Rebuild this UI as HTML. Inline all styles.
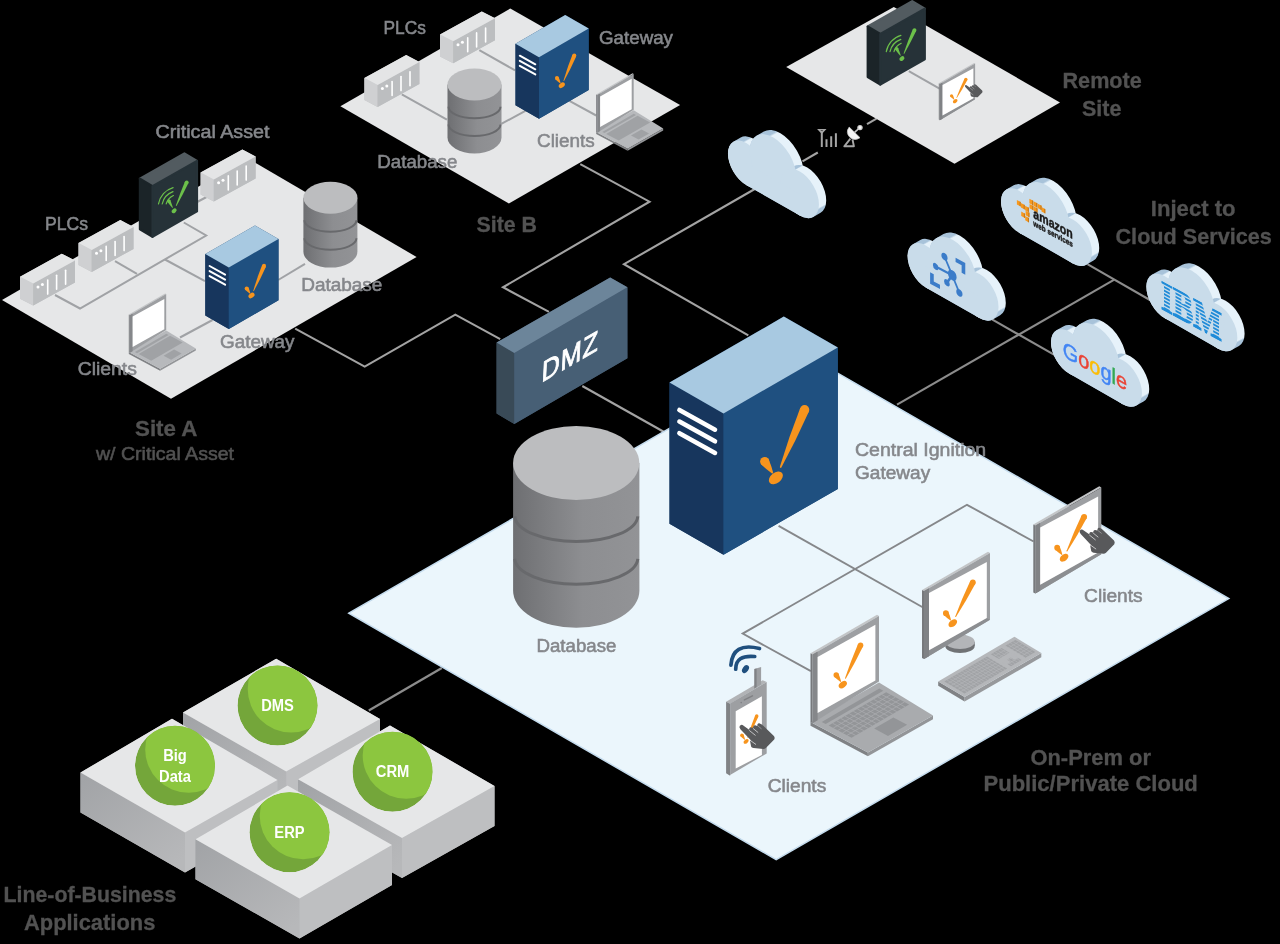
<!DOCTYPE html>
<html><head><meta charset="utf-8"><title>Architecture</title>
<style>html,body{margin:0;padding:0;background:#000;}svg{display:block;will-change:transform;}</style></head>
<body>
<svg width="1280" height="944" viewBox="0 0 1280 944" font-family="'Liberation Sans', sans-serif">
<defs>
<linearGradient id="cyl" x1="0" x2="1" y1="0" y2="0"><stop offset="0" stop-color="#6e6f72"/><stop offset="0.25" stop-color="#7c7d80"/><stop offset="0.55" stop-color="#8d8e91"/><stop offset="1" stop-color="#929396"/></linearGradient>
<linearGradient id="lobl" x1="0" y1="0" x2="0.8" y2="1"><stop offset="0" stop-color="#a1a3a6"/><stop offset="1" stop-color="#b7b8ba"/></linearGradient>
<clipPath id="cc"><circle cx="0" cy="0" r="40"/></clipPath>
</defs>
<rect width="1280" height="944" fill="#000"/>
<polyline points="295.2,328.7 364.7,366.6 455.3,314.6 500.2,339.2" fill="none" stroke="#a3a3a3" stroke-width="2.1" />
<polyline points="580.3,164.2 649.5,201.7 503.0,287.3 549.0,311.9" fill="none" stroke="#a3a3a3" stroke-width="2.1" />
<polyline points="760.0,186.0 624.0,264.2 748.3,335.3" fill="none" stroke="#a3a3a3" stroke-width="2.1" />
<polyline points="582.3,386.0 665.0,432.5" fill="none" stroke="#a3a3a3" stroke-width="2.1" />
<polyline points="897.0,404.6 1114.3,279.7" fill="none" stroke="#8c8c8c" stroke-width="2.1" />
<polyline points="1087.4,264.2 1150.8,300.5" fill="none" stroke="#8c8c8c" stroke-width="2.1" />
<polyline points="992.0,319.4 1055.7,355.7" fill="none" stroke="#8c8c8c" stroke-width="2.1" />
<polyline points="368.8,710.5 441.8,668.0" fill="none" stroke="#8c8c8c" stroke-width="2.3" />
<polyline points="802.5,161.4 817.8,152.5" fill="none" stroke="#a3a3a3" stroke-width="2.1" />
<polyline points="867.0,124.1 876.5,118.6" fill="none" stroke="#a3a3a3" stroke-width="2.1" />
<polygon points="348.8,613.2 801.5,352.3 1228.8,598.6 776.2,859.6" fill="#ebf6fc" stroke="#c5dcee" stroke-width="1.5"/>
<polyline points="778.6,525.8 924.0,608.0" fill="none" stroke="#85878a" stroke-width="1.9" />
<polyline points="1033.6,541.5 967.0,504.8 742.7,633.6 810.9,671.2" fill="none" stroke="#85878a" stroke-width="1.9" />
<polygon points="2.0,300.0 247.6,158.3 416.6,257.0 171.0,398.7" fill="#e6e7e8" />
<polyline points="55.0,295.0 80.0,308.5 206.2,235.5 183.8,222.5" fill="none" stroke="#a0a2a5" stroke-width="2.0" />
<polyline points="115.0,261.2 137.0,273.8" fill="none" stroke="#a0a2a5" stroke-width="2.0" />
<polyline points="196.2,202.5 207.5,196.5" fill="none" stroke="#a0a2a5" stroke-width="2.0" />
<polyline points="165.0,259.5 205.0,281.2" fill="none" stroke="#a0a2a5" stroke-width="2.0" />
<polyline points="278.2,280.0 305.0,263.8" fill="none" stroke="#a0a2a5" stroke-width="2.0" />
<polyline points="212.5,320.0 180.0,337.5" fill="none" stroke="#a0a2a5" stroke-width="2.0" />
<polygon points="200.6,172.5 242.4,149.5 255.6,156.4 255.6,178.4 213.8,201.4 200.6,194.5" fill="#c4c5c7" />
<polygon points="200.6,172.5 213.8,179.4 213.8,201.4 200.6,194.5" fill="#cfd0d2" />
<polygon points="213.8,179.4 255.6,156.4 255.6,178.4 213.8,201.4" fill="#bcbec0" />
<polygon points="242.4,149.5 255.6,156.4 213.8,179.4 200.6,172.5" fill="#e4e5e6" />
<line x1="228.3" y1="175.9" x2="228.3" y2="189.9" stroke="#fff" stroke-width="1.6" stroke-linecap="round"/>
<line x1="237.2" y1="171.0" x2="237.2" y2="185.0" stroke="#fff" stroke-width="1.6" stroke-linecap="round"/>
<line x1="246.2" y1="166.1" x2="246.2" y2="180.1" stroke="#fff" stroke-width="1.6" stroke-linecap="round"/>
<circle cx="218.6" cy="182.8" r="1.5" fill="#fff"/>
<circle cx="223.0" cy="180.3" r="1.5" fill="#fff"/>
<g stroke-linejoin="round" stroke-width="2.2">
<polygon points="139.9,178.8 184.4,153.4 197.0,160.9 152.5,186.2" fill="#525b60" stroke="#525b60"/>
<polygon points="139.9,178.8 152.5,186.2 152.5,236.8 139.9,229.2" fill="#1b2428" stroke="#1b2428"/>
<polygon points="152.5,186.2 197.0,160.9 197.0,211.4 152.5,236.8" fill="#263238" stroke="#263238"/>
</g>
<g fill="#6cc04a"><path d="M184.99,181.55 Q180.05,193.32 175.84,205.42 L176.66,205.78 Q182.92,194.61 188.45,183.11 Z"/><circle cx="186.72" cy="182.33" r="1.90"/><circle cx="176.25" cy="205.60" r="0.45"/></g>
<ellipse cx="174.1" cy="210.8" rx="2.8" ry="2.0" transform="rotate(-38 174.1 210.8)" fill="#6cc04a"/>
<g fill="#6cc04a"><path d="M167.31,201.67 Q169.73,204.71 172.15,207.74 L172.85,207.36 Q171.57,203.69 170.29,200.03 Z"/><circle cx="168.80" cy="200.85" r="1.70"/><circle cx="172.50" cy="207.55" r="0.40"/></g>
<path d="M166.2,203.9 A13.1,13.1 0 0 1 173.4,195.5" fill="none" stroke="#6cc04a" stroke-width="1.2" stroke-linecap="round"/>
<path d="M162.2,204.0 A16.9,16.9 0 0 1 173.0,191.6" fill="none" stroke="#6cc04a" stroke-width="1.2" stroke-linecap="round"/>
<path d="M158.5,203.9 A20.6,20.6 0 0 1 173.1,187.7" fill="none" stroke="#6cc04a" stroke-width="1.2" stroke-linecap="round"/>
<polygon points="78.5,243.0 120.3,220.0 133.5,226.9 133.5,248.9 91.7,271.9 78.5,265.0" fill="#c4c5c7" />
<polygon points="78.5,243.0 91.7,249.9 91.7,271.9 78.5,265.0" fill="#cfd0d2" />
<polygon points="91.7,249.9 133.5,226.9 133.5,248.9 91.7,271.9" fill="#bcbec0" />
<polygon points="120.3,220.0 133.5,226.9 91.7,249.9 78.5,243.0" fill="#e4e5e6" />
<line x1="106.2" y1="246.4" x2="106.2" y2="260.4" stroke="#fff" stroke-width="1.6" stroke-linecap="round"/>
<line x1="115.1" y1="241.5" x2="115.1" y2="255.5" stroke="#fff" stroke-width="1.6" stroke-linecap="round"/>
<line x1="124.1" y1="236.6" x2="124.1" y2="250.6" stroke="#fff" stroke-width="1.6" stroke-linecap="round"/>
<circle cx="96.5" cy="253.3" r="1.5" fill="#fff"/>
<circle cx="100.9" cy="250.8" r="1.5" fill="#fff"/>
<polygon points="20.0,276.7 61.8,253.7 75.0,260.6 75.0,282.6 33.2,305.6 20.0,298.7" fill="#c4c5c7" />
<polygon points="20.0,276.7 33.2,283.6 33.2,305.6 20.0,298.7" fill="#cfd0d2" />
<polygon points="33.2,283.6 75.0,260.6 75.0,282.6 33.2,305.6" fill="#bcbec0" />
<polygon points="61.8,253.7 75.0,260.6 33.2,283.6 20.0,276.7" fill="#e4e5e6" />
<line x1="47.7" y1="280.1" x2="47.7" y2="294.1" stroke="#fff" stroke-width="1.6" stroke-linecap="round"/>
<line x1="56.6" y1="275.2" x2="56.6" y2="289.2" stroke="#fff" stroke-width="1.6" stroke-linecap="round"/>
<line x1="65.6" y1="270.3" x2="65.6" y2="284.3" stroke="#fff" stroke-width="1.6" stroke-linecap="round"/>
<circle cx="38.0" cy="287.0" r="1.5" fill="#fff"/>
<circle cx="42.4" cy="284.5" r="1.5" fill="#fff"/>
<path d="M303.4,197.7 L303.4,251.6 A27.0,16.0 0 0 0 357.4,251.6 L357.4,197.7 Z" fill="url(#cyl)"/>
<path d="M304.4,220.3 A26.0,11.4 0 0 0 356.4,220.3" fill="none" stroke="#68696c" stroke-width="2.0"/>
<path d="M304.4,238.3 A26.0,11.4 0 0 0 356.4,238.3" fill="none" stroke="#68696c" stroke-width="2.0"/>
<ellipse cx="330.4" cy="197.7" rx="27.0" ry="16.0" fill="#bcbdbf"/>
<polygon points="205.3,254.0 255.0,225.4 278.5,238.9 278.5,300.3 228.8,329.0 205.3,315.5" fill="#1b4570" />
<polygon points="205.3,254.0 228.8,267.5 228.8,329.0 205.3,315.5" fill="#17365d" />
<polygon points="228.8,267.5 278.5,238.9 278.5,300.3 228.8,329.0" fill="#1f5080" />
<polygon points="255.0,225.4 278.5,238.9 228.8,267.5 205.3,254.0" fill="#a8c9e1" />
<line x1="209.6" y1="266.0" x2="225.1" y2="274.6" stroke="#fff" stroke-width="2.0" stroke-linecap="round"/>
<line x1="209.6" y1="271.1" x2="225.1" y2="279.6" stroke="#fff" stroke-width="2.0" stroke-linecap="round"/>
<line x1="209.6" y1="276.1" x2="225.1" y2="284.7" stroke="#fff" stroke-width="2.0" stroke-linecap="round"/>
<g fill="#f7941d"><path d="M262.14,265.12 Q257.18,277.70 253.27,290.73 L253.91,290.99 Q260.43,279.06 265.91,266.69 Z"/><circle cx="264.02" cy="265.91" r="2.04"/><circle cx="253.59" cy="290.86" r="0.35"/></g>
<g fill="#f7941d"><path d="M245.03,289.56 Q247.17,291.67 249.74,293.49 L250.31,293.10 Q249.53,290.05 248.32,287.29 Z"/><circle cx="246.67" cy="288.42" r="2.00"/><circle cx="250.02" cy="293.29" r="0.35"/></g>
<ellipse cx="251.5" cy="295.5" rx="3.4" ry="2.3" transform="rotate(-38 251.5 295.5)" fill="#f7941d"/>
<polygon points="128.8,352.1 160.1,368.8 160.1,370.8 128.8,354.1" fill="#808285" />
<polygon points="160.1,368.8 195.8,348.6 195.8,350.5 160.1,370.8" fill="#939598" />
<polygon points="128.8,352.1 160.1,368.8 195.8,348.6 166.2,330.4" fill="#b7b9bc" />
<polygon points="138.7,354.1 170.1,335.8 182.7,342.5 151.2,360.7" fill="#a0a2a5" />
<polygon points="134.9,352.1 166.4,333.8 168.6,335.0 137.1,353.2" fill="#a0a2a5" />
<polygon points="163.6,355.7 174.1,349.6 181.6,353.6 171.1,359.7" fill="#a0a2a5" />
<polygon points="129.8,315.2 166.2,294.0 165.1,293.4 128.8,314.5" fill="#c3c5c7" />
<polygon points="129.8,315.2 129.8,352.8 128.8,352.1 128.8,314.5" fill="#77797c" />
<polygon points="129.8,315.2 166.2,294.0 166.2,329.9 129.8,352.8" fill="#9d9fa2" />
<polygon points="129.8,315.2 132.6,313.5 132.6,351.2 129.8,352.8" fill="#85878a" />
<polygon points="132.6,316.5 164.3,298.9 164.3,329.3 132.6,347.1" fill="#fff" />
<polygon points="340.4,106.2 510.3,8.5 680.1,105.0 508.9,203.4" fill="#e6e7e8" />
<polyline points="401.8,94.4 446.9,119.7" fill="none" stroke="#a0a2a5" stroke-width="2.0" />
<polyline points="479.3,50.1 515.1,70.4" fill="none" stroke="#a0a2a5" stroke-width="2.0" />
<polyline points="501.3,123.9 527.2,109.9" fill="none" stroke="#a0a2a5" stroke-width="2.0" />
<polyline points="569.4,100.8 596.2,115.5" fill="none" stroke="#a0a2a5" stroke-width="2.0" />
<polygon points="440.0,34.4 481.8,11.4 495.0,18.3 495.0,40.3 453.2,63.3 440.0,56.4" fill="#c4c5c7" />
<polygon points="440.0,34.4 453.2,41.3 453.2,63.3 440.0,56.4" fill="#cfd0d2" />
<polygon points="453.2,41.3 495.0,18.3 495.0,40.3 453.2,63.3" fill="#bcbec0" />
<polygon points="481.8,11.4 495.0,18.3 453.2,41.3 440.0,34.4" fill="#e4e5e6" />
<line x1="467.7" y1="37.8" x2="467.7" y2="51.8" stroke="#fff" stroke-width="1.6" stroke-linecap="round"/>
<line x1="476.6" y1="32.9" x2="476.6" y2="46.9" stroke="#fff" stroke-width="1.6" stroke-linecap="round"/>
<line x1="485.6" y1="28.0" x2="485.6" y2="42.0" stroke="#fff" stroke-width="1.6" stroke-linecap="round"/>
<circle cx="458.0" cy="44.7" r="1.5" fill="#fff"/>
<circle cx="462.4" cy="42.2" r="1.5" fill="#fff"/>
<polygon points="364.4,78.1 406.2,55.1 419.4,62.0 419.4,84.0 377.6,107.0 364.4,100.1" fill="#c4c5c7" />
<polygon points="364.4,78.1 377.6,85.0 377.6,107.0 364.4,100.1" fill="#cfd0d2" />
<polygon points="377.6,85.0 419.4,62.0 419.4,84.0 377.6,107.0" fill="#bcbec0" />
<polygon points="406.2,55.1 419.4,62.0 377.6,85.0 364.4,78.1" fill="#e4e5e6" />
<line x1="392.1" y1="81.5" x2="392.1" y2="95.5" stroke="#fff" stroke-width="1.6" stroke-linecap="round"/>
<line x1="401.0" y1="76.6" x2="401.0" y2="90.6" stroke="#fff" stroke-width="1.6" stroke-linecap="round"/>
<line x1="410.0" y1="71.7" x2="410.0" y2="85.7" stroke="#fff" stroke-width="1.6" stroke-linecap="round"/>
<circle cx="382.4" cy="88.4" r="1.5" fill="#fff"/>
<circle cx="386.8" cy="85.9" r="1.5" fill="#fff"/>
<path d="M447.5,84.5 L447.5,137.5 A27.0,16.0 0 0 0 501.5,137.5 L501.5,84.5 Z" fill="url(#cyl)"/>
<path d="M448.5,106.8 A26.0,11.4 0 0 0 500.5,106.8" fill="none" stroke="#68696c" stroke-width="2.0"/>
<path d="M448.5,124.5 A26.0,11.4 0 0 0 500.5,124.5" fill="none" stroke="#68696c" stroke-width="2.0"/>
<ellipse cx="474.5" cy="84.5" rx="27.0" ry="16.0" fill="#bcbdbf"/>
<polygon points="515.5,43.7 565.2,15.1 588.7,28.6 588.7,90.0 539.0,118.7 515.5,105.2" fill="#1b4570" />
<polygon points="515.5,43.7 539.0,57.2 539.0,118.7 515.5,105.2" fill="#17365d" />
<polygon points="539.0,57.2 588.7,28.6 588.7,90.0 539.0,118.7" fill="#1f5080" />
<polygon points="565.2,15.1 588.7,28.6 539.0,57.2 515.5,43.7" fill="#a8c9e1" />
<line x1="519.8" y1="55.7" x2="535.3" y2="64.3" stroke="#fff" stroke-width="2.0" stroke-linecap="round"/>
<line x1="519.8" y1="60.8" x2="535.3" y2="69.3" stroke="#fff" stroke-width="2.0" stroke-linecap="round"/>
<line x1="519.8" y1="65.8" x2="535.3" y2="74.4" stroke="#fff" stroke-width="2.0" stroke-linecap="round"/>
<g fill="#f7941d"><path d="M572.39,54.82 Q567.43,67.40 563.52,80.43 L564.16,80.69 Q570.68,68.76 576.16,56.39 Z"/><circle cx="574.27" cy="55.61" r="2.04"/><circle cx="563.84" cy="80.56" r="0.35"/></g>
<g fill="#f7941d"><path d="M555.28,79.26 Q557.42,81.37 559.99,83.19 L560.56,82.80 Q559.78,79.75 558.57,76.99 Z"/><circle cx="556.92" cy="78.12" r="2.00"/><circle cx="560.27" cy="82.99" r="0.35"/></g>
<ellipse cx="561.8" cy="85.2" rx="3.4" ry="2.3" transform="rotate(-38 561.8 85.2)" fill="#f7941d"/>
<polygon points="596.2,132.0 627.6,148.7 627.6,150.7 596.2,134.0" fill="#808285" />
<polygon points="627.6,148.7 663.2,128.5 663.2,130.4 627.6,150.7" fill="#939598" />
<polygon points="596.2,132.0 627.6,148.7 663.2,128.5 633.7,110.3" fill="#b7b9bc" />
<polygon points="606.1,134.0 637.6,115.7 650.1,122.4 618.7,140.6" fill="#a0a2a5" />
<polygon points="602.3,132.0 633.8,113.7 636.0,114.9 604.5,133.1" fill="#a0a2a5" />
<polygon points="631.0,135.6 641.5,129.5 649.1,133.5 638.6,139.6" fill="#a0a2a5" />
<polygon points="597.3,95.1 633.7,73.9 632.6,73.3 596.2,94.4" fill="#c3c5c7" />
<polygon points="597.3,95.1 597.3,132.7 596.2,132.0 596.2,94.4" fill="#77797c" />
<polygon points="597.3,95.1 633.7,73.9 633.7,109.8 597.3,132.7" fill="#9d9fa2" />
<polygon points="597.3,95.1 600.1,93.4 600.1,131.1 597.3,132.7" fill="#85878a" />
<polygon points="600.1,96.4 631.7,78.8 631.7,109.2 600.1,127.0" fill="#fff" />
<polygon points="786.2,67.0 893.8,7.0 1060.0,102.5 954.5,163.8" fill="#e6e7e8" />
<polyline points="908.8,71.2 940.0,88.8" fill="none" stroke="#a0a2a5" stroke-width="2.0" />
<g stroke-linejoin="round" stroke-width="2.2">
<polygon points="867.7,26.5 912.2,1.2 924.8,8.7 880.3,34.0" fill="#525b60" stroke="#525b60"/>
<polygon points="867.7,26.5 880.3,34.0 880.3,84.5 867.7,77.0" fill="#1b2428" stroke="#1b2428"/>
<polygon points="880.3,34.0 924.8,8.7 924.8,59.2 880.3,84.5" fill="#263238" stroke="#263238"/>
</g>
<g fill="#6cc04a"><path d="M912.79,29.30 Q907.85,41.07 903.64,53.17 L904.46,53.53 Q910.72,42.36 916.25,30.86 Z"/><circle cx="914.52" cy="30.08" r="1.90"/><circle cx="904.05" cy="53.35" r="0.45"/></g>
<ellipse cx="901.9" cy="58.6" rx="2.8" ry="2.0" transform="rotate(-38 901.9 58.6)" fill="#6cc04a"/>
<g fill="#6cc04a"><path d="M895.11,49.42 Q897.53,52.46 899.95,55.49 L900.65,55.11 Q899.37,51.44 898.09,47.78 Z"/><circle cx="896.60" cy="48.60" r="1.70"/><circle cx="900.30" cy="55.30" r="0.40"/></g>
<path d="M894.0,51.6 A13.1,13.1 0 0 1 901.2,43.3" fill="none" stroke="#6cc04a" stroke-width="1.2" stroke-linecap="round"/>
<path d="M890.0,51.7 A16.9,16.9 0 0 1 900.8,39.4" fill="none" stroke="#6cc04a" stroke-width="1.2" stroke-linecap="round"/>
<path d="M886.3,51.7 A20.6,20.6 0 0 1 900.9,35.4" fill="none" stroke="#6cc04a" stroke-width="1.2" stroke-linecap="round"/>
<polygon points="939.8,83.9 975.1,63.5 974.1,62.9 938.8,83.2" fill="#c3c5c7" />
<polygon points="939.8,83.9 939.8,120.3 938.8,119.6 938.8,83.2" fill="#77797c" />
<polygon points="939.8,83.9 975.1,63.5 975.1,99.2 939.8,120.3" fill="#9d9fa2" />
<polygon points="939.8,120.3 975.1,99.2 973.4,98.2 942.5,115.6" fill="#8c8e91" />
<polygon points="939.8,83.9 942.5,82.4 942.5,118.7 939.8,120.3" fill="#808285" />
<polygon points="942.5,85.0 973.4,68.3 973.4,98.2 942.5,115.6" fill="#fff" />
<g fill="#f7941d"><path d="M964.57,78.48 Q960.16,87.76 956.52,97.42 L956.99,97.65 Q962.55,88.96 967.34,79.88 Z"/><circle cx="965.95" cy="79.18" r="1.55"/><circle cx="956.75" cy="97.53" r="0.26"/></g>
<g fill="#f7941d"><path d="M950.25,96.55 Q951.88,98.15 953.83,99.53 L954.26,99.23 Q953.67,96.92 952.76,94.83 Z"/><circle cx="951.50" cy="95.69" r="1.52"/><circle cx="954.05" cy="99.38" r="0.26"/></g>
<ellipse cx="955.2" cy="101.1" rx="2.6" ry="1.7" transform="rotate(-38 955.2 101.1)" fill="#f7941d"/>
<g transform="translate(965.0 86.2) scale(0.50)">
<path fill="#58595b" d="M-0.1,0.3 Q-0.3,-1.6 1.4,-2.3 Q2.2,-2.6 3.0,-2.1 L9.5,2.5 L9.8,1.1 Q10.4,0.0 11.5,0.2 L13.4,0.6 L13.8,-0.9 Q14.5,-2.0 15.6,-1.9 L17.5,-1.3 L17.9,-3.0 Q18.6,-4.2 19.7,-4.0 L22.2,-2.8 L34.3,8.8 Q35.6,10.6 34.6,12.4 L26.3,20.9 Q25.2,21.9 23.8,21.9 L13.9,20.9 Q11.9,20.6 11.5,19.3 L10.5,14.0 L11.3,13.1 L1.0,2.3 Z"/>
<g stroke="#fff" stroke-width="0.7" stroke-opacity="0.9" stroke-linecap="round"><line x1="11.1" y1="13.5" x2="16.1" y2="17.1"/><line x1="9.9" y1="3.4" x2="15.6" y2="8.0"/><line x1="13.7" y1="1.4" x2="18.3" y2="5.2"/><line x1="18" y1="-1.5" x2="21.6" y2="1.4" stroke-opacity="0.5"/></g>
</g>
<g stroke="#a6a6a6" stroke-width="2" fill="none">
<path d="M818.8,129.8 L824.8,129.8 L821.8,133 Z" stroke-width="1.5"/><path d="M821.8,131 L821.8,147"/>
<path d="M826.5,147 L826.5,139.3 M831.2,147 L831.2,136.2 M835.9,147 L835.9,133.2"/>
<path d="M850.4,138.6 L844.3,146.3 L853.9,146.3 L852.5,139.5" stroke-width="1.9" stroke-linejoin="round"/>
</g>
<path d="M849.2,127.1 L860,137.7 Q854.5,141.5 849.8,137.2 Q845.2,132.4 849.2,127.1 Z" fill="#f4f4f4" stroke="#c8c8c8" stroke-width="0.8"/>
<line x1="854.6" y1="132.4" x2="859.2" y2="128.2" stroke="#c8c8c8" stroke-width="1.6"/>
<circle cx="860" cy="127.6" r="2.7" fill="#cfcfcf"/><circle cx="860" cy="127.6" r="1.3" fill="#fafafa"/>
<g transform="matrix(0.866 0.495 0 1.000 728.0 153.0)">
<polygon points="21,0 83,0 91.4,-8.3 91.4,13.2 83.0,21.5 21,21.5" fill="#a8c3da"/>
<linearGradient id="cg1_0" gradientUnits="userSpaceOnUse" x1="6.30" y1="-14.49" x2="35.70" y2="15.49"><stop offset="0" stop-color="#a8c3da"/><stop offset="0.09" stop-color="#a8c3da"/><stop offset="0.12" stop-color="#e6f2fa"/><stop offset="0.9" stop-color="#e6f2fa"/><stop offset="0.93" stop-color="#a8c3da"/><stop offset="1" stop-color="#a8c3da"/></linearGradient>
<line x1="21.0" y1="0.5" x2="29.4" y2="-7.8" stroke-width="42.0" stroke="url(#cg1_0)" stroke-linecap="round"/>
<linearGradient id="cg1_1" gradientUnits="userSpaceOnUse" x1="33.10" y1="-33.78" x2="70.90" y2="4.78"><stop offset="0" stop-color="#a8c3da"/><stop offset="0.09" stop-color="#a8c3da"/><stop offset="0.12" stop-color="#e6f2fa"/><stop offset="0.9" stop-color="#e6f2fa"/><stop offset="0.93" stop-color="#a8c3da"/><stop offset="1" stop-color="#a8c3da"/></linearGradient>
<line x1="52.0" y1="-14.5" x2="60.4" y2="-22.8" stroke-width="54.0" stroke="url(#cg1_1)" stroke-linecap="round"/>
<linearGradient id="cg1_2" gradientUnits="userSpaceOnUse" x1="67.60" y1="-16.21" x2="98.40" y2="15.21"><stop offset="0" stop-color="#a8c3da"/><stop offset="0.06" stop-color="#a8c3da"/><stop offset="0.08" stop-color="#e6f2fa"/><stop offset="0.9" stop-color="#e6f2fa"/><stop offset="0.93" stop-color="#a8c3da"/><stop offset="1" stop-color="#a8c3da"/></linearGradient>
<line x1="83.0" y1="-0.5" x2="91.4" y2="-8.8" stroke-width="44.0" stroke="url(#cg1_2)" stroke-linecap="round"/>
<g fill="#c9dcea">
<circle cx="21.0" cy="0.5" r="21.0"/>
<circle cx="52.0" cy="-14.5" r="27.0"/>
<circle cx="83.0" cy="-0.5" r="22.0"/>
<rect x="21" y="0" width="62" height="21.5"/>
</g>
<g transform="matrix(1 -0.025 0 1 0.00 0.00)"></g>
</g>
<g transform="matrix(0.866 0.495 0 1.000 1001.0 200.8)">
<polygon points="21,0 83,0 91.4,-8.3 91.4,13.2 83.0,21.5 21,21.5" fill="#a8c3da"/>
<linearGradient id="cg2_0" gradientUnits="userSpaceOnUse" x1="6.30" y1="-14.49" x2="35.70" y2="15.49"><stop offset="0" stop-color="#a8c3da"/><stop offset="0.09" stop-color="#a8c3da"/><stop offset="0.12" stop-color="#e6f2fa"/><stop offset="0.9" stop-color="#e6f2fa"/><stop offset="0.93" stop-color="#a8c3da"/><stop offset="1" stop-color="#a8c3da"/></linearGradient>
<line x1="21.0" y1="0.5" x2="29.4" y2="-7.8" stroke-width="42.0" stroke="url(#cg2_0)" stroke-linecap="round"/>
<linearGradient id="cg2_1" gradientUnits="userSpaceOnUse" x1="33.10" y1="-33.78" x2="70.90" y2="4.78"><stop offset="0" stop-color="#a8c3da"/><stop offset="0.09" stop-color="#a8c3da"/><stop offset="0.12" stop-color="#e6f2fa"/><stop offset="0.9" stop-color="#e6f2fa"/><stop offset="0.93" stop-color="#a8c3da"/><stop offset="1" stop-color="#a8c3da"/></linearGradient>
<line x1="52.0" y1="-14.5" x2="60.4" y2="-22.8" stroke-width="54.0" stroke="url(#cg2_1)" stroke-linecap="round"/>
<linearGradient id="cg2_2" gradientUnits="userSpaceOnUse" x1="67.60" y1="-16.21" x2="98.40" y2="15.21"><stop offset="0" stop-color="#a8c3da"/><stop offset="0.06" stop-color="#a8c3da"/><stop offset="0.08" stop-color="#e6f2fa"/><stop offset="0.9" stop-color="#e6f2fa"/><stop offset="0.93" stop-color="#a8c3da"/><stop offset="1" stop-color="#a8c3da"/></linearGradient>
<line x1="83.0" y1="-0.5" x2="91.4" y2="-8.8" stroke-width="44.0" stroke="url(#cg2_2)" stroke-linecap="round"/>
<g fill="#c9dcea">
<circle cx="21.0" cy="0.5" r="21.0"/>
<circle cx="52.0" cy="-14.5" r="27.0"/>
<circle cx="83.0" cy="-0.5" r="22.0"/>
<rect x="21" y="0" width="62" height="21.5"/>
</g>
<g transform="matrix(1 -0.025 0 1 0.35 0.80)"><g fill="#f7981d"><rect x="18.0" y="-10.2" width="4.4" height="4.4"/><rect x="22.7" y="-9.4" width="4.4" height="4.4"/><rect x="27.4" y="-8.9" width="4.4" height="4.4"/><rect x="32.4" y="-18.2" width="4.4" height="4.4"/><rect x="37.2" y="-18.0" width="4.4" height="4.4"/><rect x="42.1" y="-17.9" width="4.4" height="4.4"/><rect x="46.4" y="-16.5" width="4.4" height="4.4"/><rect x="28.1" y="-4.2" width="4.4" height="4.4"/><rect x="23.0" y="-1.0" width="4.4" height="4.4"/><rect x="27.6" y="1.2" width="4.4" height="4.4"/><rect x="32.6" y="-13.2" width="4.4" height="4.4"/><rect x="37.4" y="-13.0" width="4.4" height="4.4"/></g><g fill="#c77a1a"><rect x="21.1" y="-10.2" width="1.3" height="4.4"/><rect x="25.8" y="-9.4" width="1.3" height="4.4"/><rect x="30.5" y="-8.9" width="1.3" height="4.4"/><rect x="35.5" y="-18.2" width="1.3" height="4.4"/><rect x="40.3" y="-18.0" width="1.3" height="4.4"/><rect x="45.2" y="-17.9" width="1.3" height="4.4"/><rect x="49.5" y="-16.5" width="1.3" height="4.4"/><rect x="31.2" y="-4.2" width="1.3" height="4.4"/><rect x="26.1" y="-1.0" width="1.3" height="4.4"/><rect x="30.7" y="1.2" width="1.3" height="4.4"/><rect x="35.7" y="-13.2" width="1.3" height="4.4"/><rect x="40.5" y="-13.0" width="1.3" height="4.4"/></g><text x="37" y="-1.5" font-size="13.5" font-weight="bold" fill="#1a1a1a" stroke="#1a1a1a" stroke-width="0.5" textLength="45.5" lengthAdjust="spacingAndGlyphs">amazon</text><text x="37" y="6.6" font-size="8" font-weight="bold" fill="#1a1a1a" stroke="#1a1a1a" stroke-width="0.4" textLength="45.5" lengthAdjust="spacingAndGlyphs">web services</text></g>
</g>
<g transform="matrix(0.866 0.495 0 1.000 907.6 255.5)">
<polygon points="21,0 83,0 91.4,-8.3 91.4,13.2 83.0,21.5 21,21.5" fill="#a8c3da"/>
<linearGradient id="cg3_0" gradientUnits="userSpaceOnUse" x1="6.30" y1="-14.49" x2="35.70" y2="15.49"><stop offset="0" stop-color="#a8c3da"/><stop offset="0.09" stop-color="#a8c3da"/><stop offset="0.12" stop-color="#e6f2fa"/><stop offset="0.9" stop-color="#e6f2fa"/><stop offset="0.93" stop-color="#a8c3da"/><stop offset="1" stop-color="#a8c3da"/></linearGradient>
<line x1="21.0" y1="0.5" x2="29.4" y2="-7.8" stroke-width="42.0" stroke="url(#cg3_0)" stroke-linecap="round"/>
<linearGradient id="cg3_1" gradientUnits="userSpaceOnUse" x1="33.10" y1="-33.78" x2="70.90" y2="4.78"><stop offset="0" stop-color="#a8c3da"/><stop offset="0.09" stop-color="#a8c3da"/><stop offset="0.12" stop-color="#e6f2fa"/><stop offset="0.9" stop-color="#e6f2fa"/><stop offset="0.93" stop-color="#a8c3da"/><stop offset="1" stop-color="#a8c3da"/></linearGradient>
<line x1="52.0" y1="-14.5" x2="60.4" y2="-22.8" stroke-width="54.0" stroke="url(#cg3_1)" stroke-linecap="round"/>
<linearGradient id="cg3_2" gradientUnits="userSpaceOnUse" x1="67.60" y1="-16.21" x2="98.40" y2="15.21"><stop offset="0" stop-color="#a8c3da"/><stop offset="0.06" stop-color="#a8c3da"/><stop offset="0.08" stop-color="#e6f2fa"/><stop offset="0.9" stop-color="#e6f2fa"/><stop offset="0.93" stop-color="#a8c3da"/><stop offset="1" stop-color="#a8c3da"/></linearGradient>
<line x1="83.0" y1="-0.5" x2="91.4" y2="-8.8" stroke-width="44.0" stroke="url(#cg3_2)" stroke-linecap="round"/>
<g fill="#c9dcea">
<circle cx="21.0" cy="0.5" r="21.0"/>
<circle cx="52.0" cy="-14.5" r="27.0"/>
<circle cx="83.0" cy="-0.5" r="22.0"/>
<rect x="21" y="0" width="62" height="21.5"/>
</g>
<g transform="matrix(1 -0.025 0 1 0.60 -1.50)"><g stroke="#3b7cc9" stroke-width="2.4" fill="none"><line x1="51" y1="-3" x2="42" y2="-17.4"/><line x1="51" y1="-3" x2="31.8" y2="-2.7"/><line x1="51" y1="-3" x2="44.8" y2="7.4"/><line x1="51" y1="-3" x2="59.2" y2="10.7"/></g><g fill="#3b7cc9"><circle cx="51" cy="-3" r="5"/><circle cx="42" cy="-17.4" r="3.6"/><circle cx="31.8" cy="-2.7" r="3.2"/><circle cx="44.8" cy="7.4" r="3.3"/><circle cx="59.2" cy="10.7" r="3.6"/><path d="M54.8,-22.2 L66,-22.2 L66,-10.6 L61.8,-10.6 L61.8,-18 L54.8,-18 Z"/><path d="M25.4,6 L29.6,6 L29.6,13.2 L36.8,13.2 L36.8,17.4 L25.4,17.4 Z"/></g></g>
</g>
<g transform="matrix(0.866 0.495 0 1.000 1146.4 286.2)">
<polygon points="21,0 83,0 91.4,-8.3 91.4,13.2 83.0,21.5 21,21.5" fill="#a8c3da"/>
<linearGradient id="cg4_0" gradientUnits="userSpaceOnUse" x1="6.30" y1="-14.49" x2="35.70" y2="15.49"><stop offset="0" stop-color="#a8c3da"/><stop offset="0.09" stop-color="#a8c3da"/><stop offset="0.12" stop-color="#e6f2fa"/><stop offset="0.9" stop-color="#e6f2fa"/><stop offset="0.93" stop-color="#a8c3da"/><stop offset="1" stop-color="#a8c3da"/></linearGradient>
<line x1="21.0" y1="0.5" x2="29.4" y2="-7.8" stroke-width="42.0" stroke="url(#cg4_0)" stroke-linecap="round"/>
<linearGradient id="cg4_1" gradientUnits="userSpaceOnUse" x1="33.10" y1="-33.78" x2="70.90" y2="4.78"><stop offset="0" stop-color="#a8c3da"/><stop offset="0.09" stop-color="#a8c3da"/><stop offset="0.12" stop-color="#e6f2fa"/><stop offset="0.9" stop-color="#e6f2fa"/><stop offset="0.93" stop-color="#a8c3da"/><stop offset="1" stop-color="#a8c3da"/></linearGradient>
<line x1="52.0" y1="-14.5" x2="60.4" y2="-22.8" stroke-width="54.0" stroke="url(#cg4_1)" stroke-linecap="round"/>
<linearGradient id="cg4_2" gradientUnits="userSpaceOnUse" x1="67.60" y1="-16.21" x2="98.40" y2="15.21"><stop offset="0" stop-color="#a8c3da"/><stop offset="0.06" stop-color="#a8c3da"/><stop offset="0.08" stop-color="#e6f2fa"/><stop offset="0.9" stop-color="#e6f2fa"/><stop offset="0.93" stop-color="#a8c3da"/><stop offset="1" stop-color="#a8c3da"/></linearGradient>
<line x1="83.0" y1="-0.5" x2="91.4" y2="-8.8" stroke-width="44.0" stroke="url(#cg4_2)" stroke-linecap="round"/>
<g fill="#c9dcea">
<circle cx="21.0" cy="0.5" r="21.0"/>
<circle cx="52.0" cy="-14.5" r="27.0"/>
<circle cx="83.0" cy="-0.5" r="22.0"/>
<rect x="21" y="0" width="62" height="21.5"/>
</g>
<g transform="matrix(1 -0.025 0 1 0.00 1.50)"><text x="17" y="13" font-family="'Liberation Serif', serif" font-size="42" font-weight="bold" fill="#1f8bd8" stroke="#1f8bd8" stroke-width="1.5" stroke-linejoin="miter" textLength="70" lengthAdjust="spacingAndGlyphs">IBM</text><g stroke="#c9dcea" stroke-width="1.45"><line x1="15" y1="-12.10" x2="90" y2="-12.10"/><line x1="15" y1="-8.60" x2="90" y2="-8.60"/><line x1="15" y1="-5.10" x2="90" y2="-5.10"/><line x1="15" y1="-1.60" x2="90" y2="-1.60"/><line x1="15" y1="1.90" x2="90" y2="1.90"/><line x1="15" y1="5.40" x2="90" y2="5.40"/><line x1="15" y1="8.90" x2="90" y2="8.90"/><line x1="15" y1="-16.2" x2="90" y2="-16.2"/><line x1="15" y1="14.1" x2="90" y2="14.1"/></g></g>
</g>
<g transform="matrix(0.866 0.495 0 1.000 1051.0 341.7)">
<polygon points="21,0 83,0 91.4,-8.3 91.4,13.2 83.0,21.5 21,21.5" fill="#a8c3da"/>
<linearGradient id="cg5_0" gradientUnits="userSpaceOnUse" x1="6.30" y1="-14.49" x2="35.70" y2="15.49"><stop offset="0" stop-color="#a8c3da"/><stop offset="0.09" stop-color="#a8c3da"/><stop offset="0.12" stop-color="#e6f2fa"/><stop offset="0.9" stop-color="#e6f2fa"/><stop offset="0.93" stop-color="#a8c3da"/><stop offset="1" stop-color="#a8c3da"/></linearGradient>
<line x1="21.0" y1="0.5" x2="29.4" y2="-7.8" stroke-width="42.0" stroke="url(#cg5_0)" stroke-linecap="round"/>
<linearGradient id="cg5_1" gradientUnits="userSpaceOnUse" x1="33.10" y1="-33.78" x2="70.90" y2="4.78"><stop offset="0" stop-color="#a8c3da"/><stop offset="0.09" stop-color="#a8c3da"/><stop offset="0.12" stop-color="#e6f2fa"/><stop offset="0.9" stop-color="#e6f2fa"/><stop offset="0.93" stop-color="#a8c3da"/><stop offset="1" stop-color="#a8c3da"/></linearGradient>
<line x1="52.0" y1="-14.5" x2="60.4" y2="-22.8" stroke-width="54.0" stroke="url(#cg5_1)" stroke-linecap="round"/>
<linearGradient id="cg5_2" gradientUnits="userSpaceOnUse" x1="67.60" y1="-16.21" x2="98.40" y2="15.21"><stop offset="0" stop-color="#a8c3da"/><stop offset="0.06" stop-color="#a8c3da"/><stop offset="0.08" stop-color="#e6f2fa"/><stop offset="0.9" stop-color="#e6f2fa"/><stop offset="0.93" stop-color="#a8c3da"/><stop offset="1" stop-color="#a8c3da"/></linearGradient>
<line x1="83.0" y1="-0.5" x2="91.4" y2="-8.8" stroke-width="44.0" stroke="url(#cg5_2)" stroke-linecap="round"/>
<g fill="#c9dcea">
<circle cx="21.0" cy="0.5" r="21.0"/>
<circle cx="52.0" cy="-14.5" r="27.0"/>
<circle cx="83.0" cy="-0.5" r="22.0"/>
<rect x="21" y="0" width="62" height="21.5"/>
</g>
<g transform="matrix(1 -0.025 0 1 0.20 -0.70)"><text x="13.5" y="8.8" font-size="22" textLength="74" lengthAdjust="spacingAndGlyphs" stroke-width="0.5"><tspan fill="#4285f4" stroke="#4285f4">G</tspan><tspan fill="#ea4335" stroke="#ea4335">o</tspan><tspan fill="#fbbc05" stroke="#fbbc05">o</tspan><tspan fill="#4285f4" stroke="#4285f4">g</tspan><tspan fill="#34a853" stroke="#34a853">l</tspan><tspan fill="#ea4335" stroke="#ea4335">e</tspan></text></g>
</g>
<polygon points="496.6,342.6 610.2,277.5 627.4,287.3 627.4,358.2 514.3,424.0 496.6,413.5" fill="#40546a" />
<polygon points="496.6,342.6 514.3,352.9 514.3,424.0 496.6,413.5" fill="#394a57" />
<polygon points="514.3,352.9 627.4,287.3 627.4,358.2 514.3,424.0" fill="#475f75" />
<polygon points="496.6,342.6 610.2,277.5 627.4,287.3 514.3,352.9" fill="#6c859a" />
<text transform="matrix(0.866 -0.5 -0.05 1 570.4 356.2)" text-anchor="middle" y="10" font-size="29" fill="#fff" stroke="#fff" stroke-width="0.9" letter-spacing="1.1">DMZ</text>
<path d="M513.1,463.0 L513.1,590.8 A63.1,37.0 0 0 0 639.4,590.8 L639.4,463.0 Z" fill="url(#cyl)"/>
<path d="M514.7,516.3 A61.6,26.3 0 0 0 637.8,516.3" fill="none" stroke="#68696c" stroke-width="3.0"/>
<path d="M514.7,558.9 A61.6,26.3 0 0 0 637.8,558.9" fill="none" stroke="#68696c" stroke-width="3.0"/>
<ellipse cx="576.2" cy="463.0" rx="63.1" ry="37.0" fill="#bcbdbf"/>
<polygon points="669.5,382.4 783.8,316.6 837.8,347.6 837.8,488.9 723.5,554.7 669.5,523.7" fill="#1b4570" />
<polygon points="669.5,382.4 723.5,413.4 723.5,554.7 669.5,523.7" fill="#17365d" />
<polygon points="723.5,413.4 837.8,347.6 837.8,488.9 723.5,554.7" fill="#1f5080" />
<polygon points="783.8,316.6 837.8,347.6 723.5,413.4 669.5,382.4" fill="#a8c9e1" />
<line x1="679.4" y1="410.0" x2="715.0" y2="429.7" stroke="#fff" stroke-width="4.6" stroke-linecap="round"/>
<line x1="679.4" y1="421.6" x2="715.0" y2="441.3" stroke="#fff" stroke-width="4.6" stroke-linecap="round"/>
<line x1="679.4" y1="433.2" x2="715.0" y2="452.9" stroke="#fff" stroke-width="4.6" stroke-linecap="round"/>
<g fill="#f7941d"><path d="M800.25,407.92 Q788.86,436.86 779.86,466.79 L781.34,467.41 Q796.33,439.98 808.92,411.55 Z"/><circle cx="804.59" cy="409.73" r="4.70"/><circle cx="780.60" cy="467.10" r="0.80"/></g>
<g fill="#f7941d"><path d="M760.92,464.11 Q765.84,468.97 771.74,473.15 L773.06,472.25 Q771.27,465.23 768.49,458.90 Z"/><circle cx="764.71" cy="461.50" r="4.60"/><circle cx="772.40" cy="472.70" r="0.80"/></g>
<ellipse cx="775.9" cy="477.8" rx="7.9" ry="5.2" transform="rotate(-38 775.9 477.8)" fill="#f7941d"/>
<polygon points="1035.3,525.6 1101.3,487.5 1099.3,486.3 1033.3,524.4" fill="#c3c5c7" />
<polygon points="1035.3,525.6 1035.3,593.6 1033.3,592.4 1033.3,524.4" fill="#77797c" />
<polygon points="1035.3,525.6 1101.3,487.5 1101.3,554.3 1035.3,593.6" fill="#9d9fa2" />
<polygon points="1035.3,593.6 1101.3,554.3 1098.1,552.4 1040.2,584.8" fill="#8c8e91" />
<polygon points="1035.3,525.6 1040.2,522.7 1040.2,590.7 1035.3,593.6" fill="#808285" />
<polygon points="1040.2,527.6 1098.1,496.4 1098.1,552.4 1040.2,584.8" fill="#fff" />
<g fill="#f7941d"><path d="M1081.56,515.49 Q1073.32,532.83 1066.51,550.88 L1067.39,551.32 Q1077.78,535.07 1086.74,518.09 Z"/><circle cx="1084.15" cy="516.79" r="2.90"/><circle cx="1066.95" cy="551.10" r="0.49"/></g>
<g fill="#f7941d"><path d="M1054.80,549.25 Q1057.84,552.25 1061.48,554.83 L1062.30,554.28 Q1061.19,549.95 1059.48,546.04 Z"/><circle cx="1057.14" cy="547.64" r="2.84"/><circle cx="1061.89" cy="554.56" r="0.49"/></g>
<ellipse cx="1064.1" cy="557.7" rx="4.9" ry="3.2" transform="rotate(-38 1064.1 557.7)" fill="#f7941d"/>
<g transform="translate(1079.7 531.8) scale(1.00)">
<path fill="#58595b" d="M-0.1,0.3 Q-0.3,-1.6 1.4,-2.3 Q2.2,-2.6 3.0,-2.1 L9.5,2.5 L9.8,1.1 Q10.4,0.0 11.5,0.2 L13.4,0.6 L13.8,-0.9 Q14.5,-2.0 15.6,-1.9 L17.5,-1.3 L17.9,-3.0 Q18.6,-4.2 19.7,-4.0 L22.2,-2.8 L34.3,8.8 Q35.6,10.6 34.6,12.4 L26.3,20.9 Q25.2,21.9 23.8,21.9 L13.9,20.9 Q11.9,20.6 11.5,19.3 L10.5,14.0 L11.3,13.1 L1.0,2.3 Z"/>
<g stroke="#fff" stroke-width="0.7" stroke-opacity="0.9" stroke-linecap="round"><line x1="11.1" y1="13.5" x2="16.1" y2="17.1"/><line x1="9.9" y1="3.4" x2="15.6" y2="8.0"/><line x1="13.7" y1="1.4" x2="18.3" y2="5.2"/><line x1="18" y1="-1.5" x2="21.6" y2="1.4" stroke-opacity="0.5"/></g>
</g>
<ellipse cx="960.0" cy="645.9" rx="14.7" ry="7.2" fill="#707275"/>
<rect x="945.3" y="641.8" width="29.4" height="4.1" fill="#707275"/>
<ellipse cx="960.0" cy="641.8" rx="14.7" ry="7.2" fill="#b3b5b8"/>
<polygon points="924.0,591.1 990.0,553.0 988.0,551.8 922.0,589.9" fill="#c3c5c7" />
<polygon points="924.0,591.1 924.0,659.1 922.0,657.9 922.0,589.9" fill="#77797c" />
<polygon points="924.0,591.1 990.0,553.0 990.0,619.8 924.0,659.1" fill="#9d9fa2" />
<polygon points="924.0,659.1 990.0,619.8 986.8,617.9 929.0,650.3" fill="#8c8e91" />
<polygon points="924.0,591.1 929.0,588.2 929.0,656.2 924.0,659.1" fill="#808285" />
<polygon points="929.0,593.1 986.8,561.9 986.8,617.9 929.0,650.3" fill="#fff" />
<g fill="#f7941d"><path d="M970.26,580.99 Q962.02,598.33 955.21,616.38 L956.09,616.82 Q966.48,600.57 975.44,583.59 Z"/><circle cx="972.85" cy="582.29" r="2.90"/><circle cx="955.65" cy="616.60" r="0.49"/></g>
<g fill="#f7941d"><path d="M943.50,614.75 Q946.54,617.75 950.18,620.33 L951.00,619.78 Q949.89,615.45 948.18,611.54 Z"/><circle cx="945.84" cy="613.14" r="2.84"/><circle cx="950.59" cy="620.06" r="0.49"/></g>
<ellipse cx="952.8" cy="623.2" rx="4.9" ry="3.2" transform="rotate(-38 952.8 623.2)" fill="#f7941d"/>
<polygon points="938.2,681.4 964.6,697.1 964.6,701.5 938.2,685.8" fill="#808285" />
<polygon points="964.6,697.1 1041.3,652.9 1041.3,657.3 964.6,701.5" fill="#97999c" />
<polygon points="938.2,681.4 1014.4,636.7 1041.3,652.9 964.6,697.1" fill="#b5b7ba" />
<polygon points="944.4,681.5 987.1,656.5 1007.2,668.4 964.5,693.4" fill="#a1a3a6" />
<polygon points="990.9,654.2 1001.6,648.0 1009.5,652.7 998.8,658.9" fill="#a1a3a6" />
<polygon points="1007.0,659.8 1010.8,657.5 1014.5,659.7 1010.7,662.0" fill="#a1a3a6" />
<polygon points="1007.3,664.0 1017.9,657.7 1021.6,659.9 1011.0,666.2" fill="#a1a3a6" />
<polygon points="1005.4,645.7 1015.3,639.9 1035.3,651.9 1025.4,657.7" fill="#a1a3a6" />
<line x1="946.9" y1="680.0" x2="967.0" y2="691.9" stroke="#b5b7ba" stroke-width="0.6"/>
<line x1="949.5" y1="678.5" x2="969.5" y2="690.5" stroke="#b5b7ba" stroke-width="0.6"/>
<line x1="952.0" y1="677.0" x2="972.1" y2="689.0" stroke="#b5b7ba" stroke-width="0.6"/>
<line x1="954.5" y1="675.6" x2="974.6" y2="687.5" stroke="#b5b7ba" stroke-width="0.6"/>
<line x1="957.1" y1="674.1" x2="977.1" y2="686.0" stroke="#b5b7ba" stroke-width="0.6"/>
<line x1="959.6" y1="672.6" x2="979.7" y2="684.5" stroke="#b5b7ba" stroke-width="0.6"/>
<line x1="962.1" y1="671.1" x2="982.2" y2="683.0" stroke="#b5b7ba" stroke-width="0.6"/>
<line x1="964.7" y1="669.6" x2="984.7" y2="681.6" stroke="#b5b7ba" stroke-width="0.6"/>
<line x1="967.2" y1="668.1" x2="987.3" y2="680.1" stroke="#b5b7ba" stroke-width="0.6"/>
<line x1="969.7" y1="666.6" x2="989.8" y2="678.6" stroke="#b5b7ba" stroke-width="0.6"/>
<line x1="972.3" y1="665.2" x2="992.3" y2="677.1" stroke="#b5b7ba" stroke-width="0.6"/>
<line x1="974.8" y1="663.7" x2="994.9" y2="675.6" stroke="#b5b7ba" stroke-width="0.6"/>
<line x1="977.3" y1="662.2" x2="997.4" y2="674.1" stroke="#b5b7ba" stroke-width="0.6"/>
<line x1="979.8" y1="660.7" x2="999.9" y2="672.6" stroke="#b5b7ba" stroke-width="0.6"/>
<line x1="982.4" y1="659.2" x2="1002.4" y2="671.2" stroke="#b5b7ba" stroke-width="0.6"/>
<line x1="984.9" y1="657.7" x2="1005.0" y2="669.7" stroke="#b5b7ba" stroke-width="0.6"/>
<line x1="987.4" y1="656.3" x2="1007.5" y2="668.2" stroke="#b5b7ba" stroke-width="0.6"/>
<line x1="990.0" y1="654.8" x2="1010.0" y2="666.7" stroke="#b5b7ba" stroke-width="0.6"/>
<line x1="992.5" y1="653.3" x2="1012.6" y2="665.2" stroke="#b5b7ba" stroke-width="0.6"/>
<line x1="995.0" y1="651.8" x2="1015.1" y2="663.7" stroke="#b5b7ba" stroke-width="0.6"/>
<line x1="997.6" y1="650.3" x2="1017.6" y2="662.2" stroke="#b5b7ba" stroke-width="0.6"/>
<line x1="1000.1" y1="648.8" x2="1020.2" y2="660.8" stroke="#b5b7ba" stroke-width="0.6"/>
<line x1="1002.6" y1="647.3" x2="1022.7" y2="659.3" stroke="#b5b7ba" stroke-width="0.6"/>
<line x1="1005.2" y1="645.9" x2="1025.2" y2="657.8" stroke="#b5b7ba" stroke-width="0.6"/>
<line x1="1007.7" y1="644.4" x2="1027.8" y2="656.3" stroke="#b5b7ba" stroke-width="0.6"/>
<line x1="1010.2" y1="642.9" x2="1030.3" y2="654.8" stroke="#b5b7ba" stroke-width="0.6"/>
<line x1="1012.8" y1="641.4" x2="1032.8" y2="653.3" stroke="#b5b7ba" stroke-width="0.6"/>
<line x1="947.8" y1="683.5" x2="1018.6" y2="641.9" stroke="#b5b7ba" stroke-width="0.6"/>
<line x1="951.1" y1="685.5" x2="1022.0" y2="643.9" stroke="#b5b7ba" stroke-width="0.6"/>
<line x1="954.4" y1="687.5" x2="1025.3" y2="645.9" stroke="#b5b7ba" stroke-width="0.6"/>
<line x1="957.8" y1="689.5" x2="1028.7" y2="647.9" stroke="#b5b7ba" stroke-width="0.6"/>
<line x1="961.1" y1="691.4" x2="1032.0" y2="649.9" stroke="#b5b7ba" stroke-width="0.6"/>
<polygon points="810.5,722.1 867.9,752.6 867.9,756.2 810.5,725.7" fill="#808285" />
<polygon points="867.9,752.6 933.0,715.6 933.0,719.2 867.9,756.2" fill="#939598" />
<polygon points="810.5,722.1 867.9,752.6 933.0,715.6 879.0,682.4" fill="#a9abae" />
<polygon points="828.6,725.6 886.1,692.3 909.1,704.5 851.6,737.8" fill="#939598" />
<polygon points="821.7,722.0 879.3,688.6 883.3,690.8 825.7,724.1" fill="#939598" />
<polygon points="874.2,728.5 893.4,717.4 907.1,724.8 888.0,735.9" fill="#939598" />
<line x1="832.7" y1="723.3" x2="855.7" y2="735.5" stroke="#a9abae" stroke-width="0.8"/>
<line x1="836.8" y1="720.9" x2="859.8" y2="733.1" stroke="#a9abae" stroke-width="0.8"/>
<line x1="840.9" y1="718.5" x2="863.9" y2="730.7" stroke="#a9abae" stroke-width="0.8"/>
<line x1="845.0" y1="716.1" x2="868.0" y2="728.3" stroke="#a9abae" stroke-width="0.8"/>
<line x1="849.2" y1="713.7" x2="872.1" y2="725.9" stroke="#a9abae" stroke-width="0.8"/>
<line x1="853.3" y1="711.3" x2="876.2" y2="723.5" stroke="#a9abae" stroke-width="0.8"/>
<line x1="857.4" y1="709.0" x2="880.3" y2="721.2" stroke="#a9abae" stroke-width="0.8"/>
<line x1="861.5" y1="706.6" x2="884.4" y2="718.8" stroke="#a9abae" stroke-width="0.8"/>
<line x1="865.6" y1="704.2" x2="888.6" y2="716.4" stroke="#a9abae" stroke-width="0.8"/>
<line x1="869.7" y1="701.8" x2="892.7" y2="714.0" stroke="#a9abae" stroke-width="0.8"/>
<line x1="873.8" y1="699.4" x2="896.8" y2="711.6" stroke="#a9abae" stroke-width="0.8"/>
<line x1="877.9" y1="697.0" x2="900.9" y2="709.2" stroke="#a9abae" stroke-width="0.8"/>
<line x1="882.0" y1="694.7" x2="905.0" y2="706.9" stroke="#a9abae" stroke-width="0.8"/>
<line x1="833.2" y1="728.1" x2="890.7" y2="694.7" stroke="#a9abae" stroke-width="0.8"/>
<line x1="837.8" y1="730.5" x2="895.3" y2="697.2" stroke="#a9abae" stroke-width="0.8"/>
<line x1="842.4" y1="733.0" x2="899.9" y2="699.6" stroke="#a9abae" stroke-width="0.8"/>
<line x1="847.0" y1="735.4" x2="904.5" y2="702.0" stroke="#a9abae" stroke-width="0.8"/>
<polygon points="812.5,654.5 879.0,615.9 877.0,614.7 810.5,653.3" fill="#c3c5c7" />
<polygon points="812.5,654.5 812.5,723.3 810.5,722.1 810.5,653.3" fill="#77797c" />
<polygon points="812.5,654.5 879.0,615.9 879.0,681.4 812.5,723.3" fill="#9d9fa2" />
<polygon points="812.5,654.5 817.6,651.5 817.6,720.3 812.5,723.3" fill="#85878a" />
<polygon points="817.6,657.0 875.4,624.8 875.4,680.4 817.6,712.9" fill="#fff" />
<g fill="#f7941d"><path d="M858.06,644.06 Q850.88,660.77 845.07,678.11 L845.93,678.49 Q855.19,662.73 863.06,646.34 Z"/><circle cx="860.56" cy="645.20" r="2.75"/><circle cx="845.50" cy="678.30" r="0.47"/></g>
<g fill="#f7941d"><path d="M833.99,676.55 Q836.87,679.39 840.32,681.84 L841.09,681.31 Q840.04,677.21 838.42,673.50 Z"/><circle cx="836.20" cy="675.03" r="2.69"/><circle cx="840.71" cy="681.57" r="0.47"/></g>
<ellipse cx="842.8" cy="684.6" rx="4.6" ry="3.0" transform="rotate(-38 842.8 684.6)" fill="#f7941d"/>
<polygon points="726.1,701.8 762.7,680.3 766.7,681.9 730.1,703.7" fill="#b1b3b6" />
<polygon points="726.1,701.8 730.1,703.7 730.1,775.7 726.1,773.3" fill="#808285" />
<polygon points="730.1,703.4 766.7,681.9 766.7,753.4 730.1,774.9" fill="#9d9fa2" />
<polygon points="754.4,669.0 761.1,667.0 761.1,684.5 754.4,688.4" fill="#9d9fa2" />
<polygon points="754.4,669.0 756.6,668.4 756.6,687.1 754.4,688.4" fill="#808285" />
<polygon points="735.7,711.3 761.9,696.2 761.9,755.0 735.7,768.5" fill="#fff" />
<line x1="744.4" y1="699.9" x2="752.4" y2="695.9" stroke="#808285" stroke-width="1.6" stroke-linecap="round"/>
<circle cx="741.2" cy="702.6" r="0.8" fill="#808285"/>
<g fill="#f7941d"><path d="M755.12,715.43 Q750.88,726.17 747.53,737.29 L748.07,737.51 Q753.65,727.34 758.33,716.78 Z"/><circle cx="756.73" cy="716.11" r="1.74"/><circle cx="747.80" cy="737.40" r="0.30"/></g>
<g fill="#f7941d"><path d="M740.49,736.29 Q742.32,738.09 744.51,739.65 L745.00,739.31 Q744.34,736.71 743.31,734.35 Z"/><circle cx="741.90" cy="735.32" r="1.71"/><circle cx="744.76" cy="739.48" r="0.30"/></g>
<ellipse cx="746.1" cy="741.4" rx="2.9" ry="1.9" transform="rotate(-38 746.1 741.4)" fill="#f7941d"/>
<g transform="translate(739.6 727.2) scale(1.00)">
<path fill="#58595b" d="M-0.1,0.3 Q-0.3,-1.6 1.4,-2.3 Q2.2,-2.6 3.0,-2.1 L9.5,2.5 L9.8,1.1 Q10.4,0.0 11.5,0.2 L13.4,0.6 L13.8,-0.9 Q14.5,-2.0 15.6,-1.9 L17.5,-1.3 L17.9,-3.0 Q18.6,-4.2 19.7,-4.0 L22.2,-2.8 L34.3,8.8 Q35.6,10.6 34.6,12.4 L26.3,20.9 Q25.2,21.9 23.8,21.9 L13.9,20.9 Q11.9,20.6 11.5,19.3 L10.5,14.0 L11.3,13.1 L1.0,2.3 Z"/>
<g stroke="#fff" stroke-width="0.7" stroke-opacity="0.9" stroke-linecap="round"><line x1="11.1" y1="13.5" x2="16.1" y2="17.1"/><line x1="9.9" y1="3.4" x2="15.6" y2="8.0"/><line x1="13.7" y1="1.4" x2="18.3" y2="5.2"/><line x1="18" y1="-1.5" x2="21.6" y2="1.4" stroke-opacity="0.5"/></g>
</g>
<g fill="none" stroke="#1f4f7e" stroke-linecap="round" stroke-width="3.7">
<path d="M735.7,669.2 Q735.6,654.75 754.7,656.5"/>
<path d="M730.9,665.2 Q732.4,641.75 759.5,648.5"/>
</g>
<ellipse cx="745.5" cy="669.2" rx="2.9" ry="4.4" transform="rotate(35 745.5 669.2)" fill="#1f4f7e"/>
<polygon points="183.0,712.5 276.2,658.8 380.0,719.0 380.0,759.0 286.2,811.5 183.0,752.5" fill="#b4b5b7" />
<polygon points="183.0,712.5 286.2,771.5 286.2,811.5 183.0,752.5" fill="url(#lobl)" />
<polygon points="286.2,771.5 380.0,719.0 380.0,759.0 286.2,811.5" fill="#bebfc1" />
<polygon points="183.0,712.5 276.2,658.8 380.0,719.0 286.2,771.5" fill="#e6e7e8" />
<g transform="translate(277.5 705.5)"><g clip-path="url(#cc)"><circle r="40" fill="#74a63a"/><circle cx="13.6" cy="-16.4" r="43.4" fill="#8cc63f"/></g>
<text text-anchor="middle" y="5.6" font-size="16" font-weight="bold" fill="#fff" transform="scale(0.92 1)">DMS</text>
</g>
<polygon points="80.5,772.5 172.0,718.8 277.5,780.0 277.5,820.0 185.0,872.5 80.5,812.5" fill="#b4b5b7" />
<polygon points="80.5,772.5 185.0,832.5 185.0,872.5 80.5,812.5" fill="url(#lobl)" />
<polygon points="185.0,832.5 277.5,780.0 277.5,820.0 185.0,872.5" fill="#bebfc1" />
<polygon points="80.5,772.5 172.0,718.8 277.5,780.0 185.0,832.5" fill="#e6e7e8" />
<g transform="translate(175.0 765.8)"><g clip-path="url(#cc)"><circle r="40" fill="#74a63a"/><circle cx="13.6" cy="-16.4" r="43.4" fill="#8cc63f"/></g>
<text text-anchor="middle" y="-4.6" font-size="16" font-weight="bold" fill="#fff" transform="scale(0.92 1)">Big</text>
<text text-anchor="middle" y="15.8" font-size="16" font-weight="bold" fill="#fff" transform="scale(0.92 1)">Data</text>
</g>
<polygon points="298.0,779.2 390.0,725.5 494.5,786.0 494.5,826.0 402.0,878.0 298.0,819.2" fill="#b4b5b7" />
<polygon points="298.0,779.2 402.0,838.0 402.0,878.0 298.0,819.2" fill="url(#lobl)" />
<polygon points="402.0,838.0 494.5,786.0 494.5,826.0 402.0,878.0" fill="#bebfc1" />
<polygon points="298.0,779.2 390.0,725.5 494.5,786.0 402.0,838.0" fill="#e6e7e8" />
<g transform="translate(392.5 771.8)"><g clip-path="url(#cc)"><circle r="40" fill="#74a63a"/><circle cx="13.6" cy="-16.4" r="43.4" fill="#8cc63f"/></g>
<text text-anchor="middle" y="5.6" font-size="16" font-weight="bold" fill="#fff" transform="scale(0.92 1)">CRM</text>
</g>
<polygon points="195.5,839.2 287.5,785.5 392.0,845.0 392.0,885.0 299.5,938.5 195.5,879.2" fill="#b4b5b7" />
<polygon points="195.5,839.2 299.5,898.5 299.5,938.5 195.5,879.2" fill="url(#lobl)" />
<polygon points="299.5,898.5 392.0,845.0 392.0,885.0 299.5,938.5" fill="#bebfc1" />
<polygon points="195.5,839.2 287.5,785.5 392.0,845.0 299.5,898.5" fill="#e6e7e8" />
<g transform="translate(289.5 832.2)"><g clip-path="url(#cc)"><circle r="40" fill="#74a63a"/><circle cx="13.6" cy="-16.4" r="43.4" fill="#8cc63f"/></g>
<text text-anchor="middle" y="5.6" font-size="16" font-weight="bold" fill="#fff" transform="scale(0.92 1)">ERP</text>
</g>
<text x="155.5" y="137.5" font-size="18.3" fill="#85878b" stroke="#85878b" stroke-width="0.55" font-weight="normal" textLength="114.0" lengthAdjust="spacingAndGlyphs" >Critical Asset</text>
<text x="45.0" y="229.5" font-size="18.3" fill="#85878b" stroke="#85878b" stroke-width="0.55" font-weight="normal" textLength="43.0" lengthAdjust="spacingAndGlyphs" >PLCs</text>
<text x="301.2" y="290.8" font-size="18.3" fill="#85878b" stroke="#85878b" stroke-width="0.55" font-weight="normal" textLength="81.2" lengthAdjust="spacingAndGlyphs" >Database</text>
<text x="220.0" y="347.5" font-size="18.3" fill="#85878b" stroke="#85878b" stroke-width="0.55" font-weight="normal" textLength="74.5" lengthAdjust="spacingAndGlyphs" >Gateway</text>
<text x="77.7" y="375.0" font-size="18.3" fill="#85878b" stroke="#85878b" stroke-width="0.55" font-weight="normal" textLength="59.2" lengthAdjust="spacingAndGlyphs" >Clients</text>
<text x="135.0" y="436.0" font-size="21.3" fill="#525252" stroke="#525252" stroke-width="0.3" font-weight="bold" textLength="62.5" lengthAdjust="spacingAndGlyphs" >Site A</text>
<text x="96.0" y="459.5" font-size="17.8" fill="#525252" stroke="#525252" stroke-width="0.55" font-weight="normal" textLength="138.0" lengthAdjust="spacingAndGlyphs" >w/ Critical Asset</text>
<text x="383.5" y="33.8" font-size="18.3" fill="#85878b" stroke="#85878b" stroke-width="0.55" font-weight="normal" textLength="42.3" lengthAdjust="spacingAndGlyphs" >PLCs</text>
<text x="599.0" y="44.2" font-size="18.3" fill="#85878b" stroke="#85878b" stroke-width="0.55" font-weight="normal" textLength="74.0" lengthAdjust="spacingAndGlyphs" >Gateway</text>
<text x="537.0" y="147.3" font-size="18.3" fill="#85878b" stroke="#85878b" stroke-width="0.55" font-weight="normal" textLength="57.8" lengthAdjust="spacingAndGlyphs" >Clients</text>
<text x="377.3" y="168.2" font-size="18.3" fill="#85878b" stroke="#85878b" stroke-width="0.55" font-weight="normal" textLength="80.0" lengthAdjust="spacingAndGlyphs" >Database</text>
<text x="476.5" y="232.4" font-size="21.3" fill="#525252" stroke="#525252" stroke-width="0.3" font-weight="bold" textLength="60.5" lengthAdjust="spacingAndGlyphs" >Site B</text>
<text x="1062.5" y="87.5" font-size="21.3" fill="#525252" stroke="#525252" stroke-width="0.3" font-weight="bold" textLength="79.3" lengthAdjust="spacingAndGlyphs" >Remote</text>
<text x="1082.0" y="115.5" font-size="21.3" fill="#525252" stroke="#525252" stroke-width="0.3" font-weight="bold" textLength="39.4" lengthAdjust="spacingAndGlyphs" >Site</text>
<text x="1150.8" y="216.0" font-size="21.3" fill="#525252" stroke="#525252" stroke-width="0.3" font-weight="bold" textLength="84.8" lengthAdjust="spacingAndGlyphs" >Inject to</text>
<text x="1115.5" y="243.8" font-size="21.3" fill="#525252" stroke="#525252" stroke-width="0.3" font-weight="bold" textLength="156.3" lengthAdjust="spacingAndGlyphs" >Cloud Services</text>
<text x="855.0" y="456.3" font-size="18.3" fill="#85878b" stroke="#85878b" stroke-width="0.55" font-weight="normal" textLength="131.2" lengthAdjust="spacingAndGlyphs" >Central Ignition</text>
<text x="855.0" y="479.4" font-size="18.3" fill="#85878b" stroke="#85878b" stroke-width="0.55" font-weight="normal" textLength="75.2" lengthAdjust="spacingAndGlyphs" >Gateway</text>
<text x="1084.1" y="602.3" font-size="18.3" fill="#85878b" stroke="#85878b" stroke-width="0.55" font-weight="normal" textLength="58.6" lengthAdjust="spacingAndGlyphs" >Clients</text>
<text x="767.7" y="791.5" font-size="18.3" fill="#85878b" stroke="#85878b" stroke-width="0.55" font-weight="normal" textLength="58.6" lengthAdjust="spacingAndGlyphs" >Clients</text>
<text x="1030.4" y="765.0" font-size="21.3" fill="#525252" stroke="#525252" stroke-width="0.3" font-weight="bold" textLength="120.6" lengthAdjust="spacingAndGlyphs" >On-Prem or</text>
<text x="983.5" y="791.3" font-size="21.3" fill="#525252" stroke="#525252" stroke-width="0.3" font-weight="bold" textLength="214.3" lengthAdjust="spacingAndGlyphs" >Public/Private Cloud</text>
<text x="536.5" y="652.0" font-size="18.3" fill="#85878b" stroke="#85878b" stroke-width="0.55" font-weight="normal" textLength="79.9" lengthAdjust="spacingAndGlyphs" >Database</text>
<text x="3.5" y="902.0" font-size="21.3" fill="#525252" stroke="#525252" stroke-width="0.3" font-weight="bold" textLength="172.8" lengthAdjust="spacingAndGlyphs" >Line-of-Business</text>
<text x="24.0" y="929.7" font-size="21.3" fill="#525252" stroke="#525252" stroke-width="0.3" font-weight="bold" textLength="131.3" lengthAdjust="spacingAndGlyphs" >Applications</text>
</svg>
</body></html>
